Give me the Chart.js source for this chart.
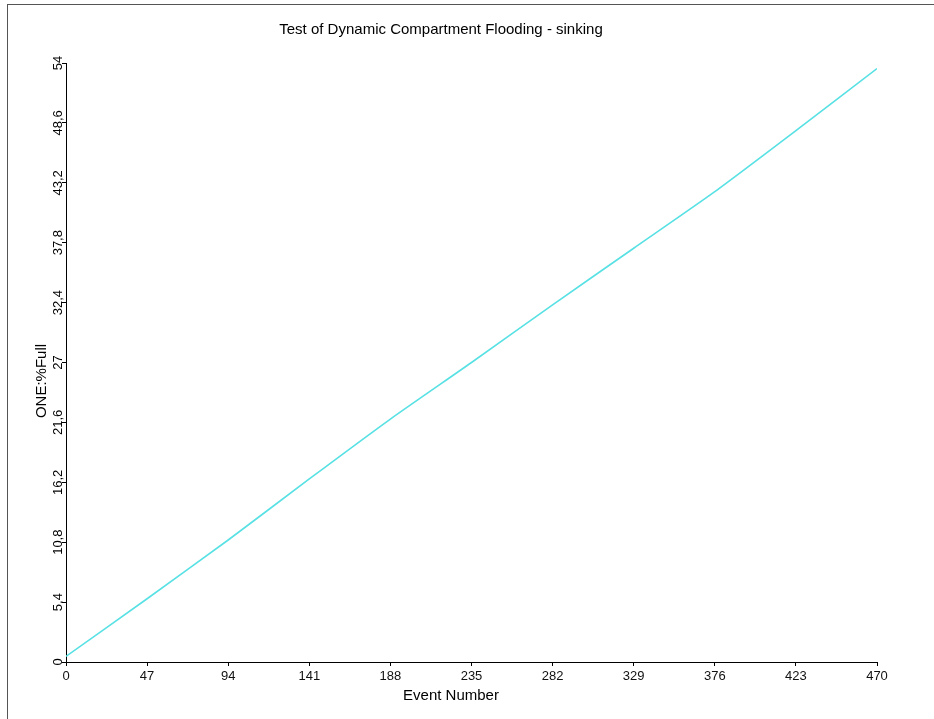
<!DOCTYPE html>
<html>
<head>
<meta charset="utf-8">
<script src="https://cdn.jsdelivr.net/npm/chart.js@4/dist/chart.umd.min.js"></script>
<style>
  body { margin: 0; background: #fff; overflow: hidden; }
  #frame { position: absolute; left: 7px; top: 4px; right: -6px; bottom: -6px; border: 1px solid #555; }
  #chart { position: absolute; left: 0; top: 0; }
</style>
</head>
<body>
<div id="frame"></div>
<canvas id="chart" width="934" height="719"></canvas>
<script>
const chartTitle = 'Test of Dynamic Compartment Flooding - sinking';
const xTitle = 'Event Number';
const yTitle = 'ONE:%Full';

const events = [0, 47, 94, 141, 188, 235, 282, 329, 376, 423, 470];
const percentFull = [0.5, 5.7, 11.0, 16.5, 21.9, 27.0, 32.2, 37.3, 42.4, 47.9, 53.5];

const xTicks = [0, 47, 94, 141, 188, 235, 282, 329, 376, 423, 470];
const yTicks = [0, 5.4, 10.8, 16.2, 21.6, 27, 32.4, 37.8, 43.2, 48.6, 54];
const yTickLabels = ['0', '5,4', '10,8', '16,2', '21,6', '27', '32,4', '37,8', '43,2', '48,6', '54'];

const fontFamily = '"Liberation Sans", Arial, sans-serif';

// draws title, axis titles and the rotated y tick labels
const textPlugin = {
    id: 'textPlugin',
    afterDraw(chart) {
        const c = chart.ctx;
        const yScale = chart.scales.y;
        c.save();
        c.fillStyle = '#000';
        c.textAlign = 'center';
        c.textBaseline = 'middle';

        c.font = '15px ' + fontFamily;
        c.fillText(chartTitle, 441, 30);
        c.fillText(xTitle, 451, 696);

        c.save();
        c.translate(42, 381);
        c.rotate(-Math.PI / 2);
        c.fillText(yTitle, 0, 0);
        c.restore();

        c.font = '13px ' + fontFamily;
        yTicks.forEach((v, i) => {
            const py = yScale.getPixelForValue(v);
            c.save();
            c.translate(58, py);
            c.rotate(-Math.PI / 2);
            c.fillText(yTickLabels[i], 0, 0);
            c.restore();
        });
        c.restore();
    }
};

new Chart(document.getElementById('chart'), {
    type: 'line',
    data: {
        datasets: [{
            data: events.map((e, i) => ({ x: e, y: percentFull[i] })),
            borderColor: '#58e1e4',
            borderWidth: 1.6,
            pointRadius: 0,
            tension: 0.2,
            fill: false
        }]
    },
    options: {
        responsive: false,
        animation: false,
        layout: { padding: { left: 0, top: 63, right: 57, bottom: 0 } },
        plugins: {
            legend: { display: false },
            title: { display: false },
            tooltip: { enabled: false }
        },
        scales: {
            x: {
                type: 'linear',
                min: 0,
                max: 470,
                afterBuildTicks: (scale) => { scale.ticks = xTicks.map(v => ({ value: v })); },
                afterFit: (scale) => { scale.height = 57; },
                ticks: {
                    color: '#111',
                    font: { family: fontFamily, size: 13 },
                    padding: 3,
                    maxRotation: 0
                },
                grid: { drawOnChartArea: false, drawTicks: true, tickLength: 4, color: '#000' },
                border: { color: '#000', width: 1 }
            },
            y: {
                type: 'linear',
                min: 0,
                max: 54,
                afterBuildTicks: (scale) => { scale.ticks = yTicks.map(v => ({ value: v })); },
                afterFit: (scale) => { scale.width = 66; },
                ticks: { display: false },
                grid: { drawOnChartArea: false, drawTicks: true, tickLength: 4, color: '#000' },
                border: { color: '#000', width: 1 }
            }
        }
    },
    plugins: [textPlugin]
});
</script>
</body>
</html>
